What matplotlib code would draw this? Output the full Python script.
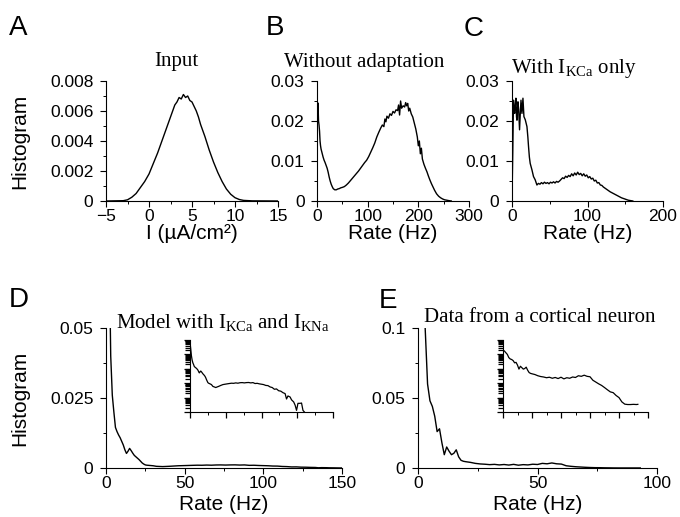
import matplotlib
matplotlib.use("Agg")
import matplotlib.pyplot as plt
from matplotlib.ticker import MultipleLocator, FuncFormatter, LogLocator, NullFormatter

# ---------------- data ----------------
# A: input current histogram
a_x = [-5, -3, -2.5, -2, -1.5, -1, -0.5, 0, 0.5, 1, 1.5, 2, 2.25, 2.5, 2.75, 3, 3.25, 3.5,
       3.75, 4, 4.25, 4.5, 4.75, 5, 5.25, 5.5, 5.75, 6, 6.5, 7, 7.5, 8, 8.5, 9, 9.5, 10,
       10.5, 11, 12, 15]
a_y = [0, 0.00002, 0.00008, 0.00025, 0.0005, 0.0009, 0.0013, 0.0018, 0.0025, 0.0032, 0.0040,
       0.0048, 0.0052, 0.0056, 0.0060, 0.0064, 0.0066, 0.0069, 0.0068, 0.0071, 0.0069,
       0.0070, 0.0067, 0.0066, 0.0063, 0.0060, 0.0056, 0.0051, 0.0043, 0.0034, 0.0026,
       0.0019, 0.0013, 0.0008, 0.00045, 0.00022, 0.0001, 0.00004, 0.00001, 0]

# B: without adaptation
b_x = [0, 1, 2, 3, 4, 5, 6, 7, 8, 10, 12, 14, 16, 18, 20, 22, 24, 26, 28, 30, 32, 35, 38,
       41, 44, 47, 50, 54, 58, 62, 66, 70, 74, 78, 82, 86, 90, 94, 98, 102, 106, 110, 114,
       118, 122, 126, 129, 132, 134, 136, 138, 141, 144, 147, 150, 153, 156, 159, 161, 163,
       165, 167, 170, 173, 175, 177, 179, 181, 183, 186, 189, 192, 195, 198, 200, 202, 204,
       206, 208, 211, 214, 217, 220, 223, 226, 229, 232, 236, 240, 244, 248, 252, 256, 260,
       265]
b_y = [0.0252, 0.0215, 0.0245, 0.0200, 0.0190, 0.0175, 0.0150, 0.0138, 0.0130, 0.0120,
       0.0110, 0.0102, 0.0096, 0.0089, 0.0082, 0.0072, 0.0060, 0.0050, 0.0042, 0.0036,
       0.0031, 0.0028, 0.0028, 0.0030, 0.0031, 0.0033, 0.0034, 0.0036, 0.0040, 0.0045,
       0.0051, 0.0057, 0.0063, 0.0069, 0.0075, 0.0082, 0.0089, 0.0096, 0.0102, 0.0111,
       0.0122, 0.0133, 0.0145, 0.0160, 0.0172, 0.0183, 0.0190, 0.0186, 0.0205, 0.0198,
       0.0212, 0.0207, 0.0218, 0.0214, 0.0224, 0.0220, 0.0228, 0.0226, 0.0240, 0.0215,
       0.0250, 0.0232, 0.0238, 0.0235, 0.0246, 0.0238, 0.0244, 0.0225, 0.0232, 0.0218,
       0.0210, 0.0195, 0.0180, 0.0160, 0.0138, 0.0150, 0.0118, 0.0132, 0.0105, 0.0092,
       0.0082, 0.0073, 0.0062, 0.0052, 0.0043, 0.0035, 0.0027, 0.0018, 0.0012, 0.0008,
       0.0005, 0.0003, 0.0002, 0.0001, 0.0]

# C: with I_KCa only
c_x = [0, 1, 2, 3, 3.5, 4.5, 5.2, 6, 6.6, 7.3, 7.9, 8.8, 10, 11, 11.9, 13.2, 14.5, 15.8,
       17.6, 19.8, 21, 21.9, 23, 24.1, 26.4, 28.5, 30.7, 33, 35, 37, 39, 41, 43, 45, 47, 49,
       51, 53, 55, 57, 59, 61, 63, 65, 67, 69, 71, 73, 75, 77, 79, 81, 83, 85, 87, 89, 91,
       93, 95, 97, 99, 101, 103, 105, 107, 109, 111, 113, 115, 117, 119, 121, 124, 127, 130,
       133, 136, 139, 142, 145, 148, 151, 154, 157, 160]
c_y = [0.0005, 0.012, 0.0252, 0.0225, 0.0219, 0.0240, 0.0257, 0.0210, 0.0202, 0.0230,
       0.0248, 0.0228, 0.0178, 0.0220, 0.0252, 0.0219, 0.0257, 0.0211, 0.0203, 0.0186,
       0.0160, 0.0136, 0.0110, 0.0094, 0.0078, 0.0061, 0.0053, 0.0040, 0.0044, 0.0042,
       0.0046, 0.0043, 0.0047, 0.0044, 0.0046, 0.0043, 0.0047, 0.0045, 0.0048, 0.0045,
       0.0049, 0.0047, 0.0050, 0.0054, 0.0058, 0.0056, 0.0062, 0.0059, 0.0064, 0.0061,
       0.0068, 0.0063, 0.0070, 0.0065, 0.0072, 0.0066, 0.0069, 0.0063, 0.0068, 0.0062,
       0.0065, 0.0058, 0.0061, 0.0055, 0.0057, 0.0050, 0.0052, 0.0045, 0.0046, 0.0040,
       0.0039, 0.0035, 0.0031, 0.0027, 0.0023, 0.0020, 0.0017, 0.0014, 0.0011, 0.0008,
       0.0006, 0.0004, 0.0002, 0.0001, 0.0]

# D: model with I_KCa and I_KNa
d_x = [0, 1, 2, 3, 4, 5, 6, 7, 8, 9, 10, 11, 12, 13, 14, 15, 16, 17, 18, 19, 20, 21, 22,
       23, 24, 25, 26, 28, 30, 32, 34, 36, 38, 40, 43, 46, 49, 52, 55, 58, 61, 64, 67, 70,
       73, 76, 79, 82, 85, 88, 91, 94, 97, 100, 103, 106, 109, 112, 115, 118, 121, 124, 127,
       130, 133, 135, 137, 140, 142, 145, 147, 149, 151, 154, 156, 158, 160]
d_y = [0.7, 0.25, 0.08, 0.040, 0.026, 0.020, 0.0145, 0.0130, 0.0118, 0.0108, 0.0095,
       0.0082, 0.0065, 0.0052, 0.0060, 0.0070, 0.0062, 0.0053, 0.0045, 0.0040, 0.0035,
       0.0030, 0.0024, 0.0018, 0.0014, 0.0011, 0.0010, 0.0009, 0.0008, 0.0006, 0.00055,
       0.0005, 0.00055, 0.0006, 0.0007, 0.0008, 0.00085, 0.0009, 0.00095, 0.0010, 0.00098,
       0.00105, 0.0010, 0.00108, 0.0011, 0.00105, 0.0011, 0.00112, 0.00105, 0.0011,
       0.00095, 0.00098, 0.0009, 0.00085, 0.0008, 0.0007, 0.00068, 0.00055, 0.0005,
       0.00038, 0.0004, 0.0003, 0.00028, 0.00022, 0.00019, 0.00008, 0.00013, 0.00011,
       0.00007, 0.00005, 0.00003, 0.000013, 0.00004, 0.00004, 0.000042, 0.000013, 0.00001]

# E: data from a cortical neuron
e_x = [0, 1, 2, 3, 4, 5, 6, 7, 8, 9, 10, 11, 12, 13, 14, 15, 16, 17, 18, 19, 20, 22, 24,
       26, 28, 30, 32, 34, 36, 38, 40, 42, 44, 46, 48, 50, 52, 54, 56, 58, 60, 62, 64, 66,
       68, 70, 72, 74, 76, 78, 80, 82, 84, 86, 88, 90, 92, 93]
e_y = [0.20, 0.17, 0.13, 0.10, 0.060, 0.048, 0.044, 0.037, 0.026, 0.028, 0.018, 0.0095,
       0.015, 0.012, 0.0095, 0.0105, 0.013, 0.008, 0.0055, 0.0048, 0.0045, 0.0040, 0.0033,
       0.0029, 0.0027, 0.0024, 0.0026, 0.0022, 0.0025, 0.0021, 0.0026, 0.0020, 0.0024,
       0.0022, 0.0027, 0.0025, 0.0033, 0.0030, 0.0036, 0.0030, 0.0028, 0.0016, 0.0012,
       0.0009, 0.0007, 0.0005, 0.00035, 0.00025, 0.00022, 0.00014, 0.0001, 0.00005,
       0.000035, 0.000033, 0.000033, 0.000034, 0.000033, 0.000034]

# ---------------- styling ----------------
SANS = ["Liberation Sans", "DejaVu Sans"]
SERIF = ["Liberation Serif", "DejaVu Serif"]
plt.rcParams["font.family"] = SANS
plt.rcParams["mathtext.fontset"] = "custom"
plt.rcParams["mathtext.rm"] = "Liberation Serif"
plt.rcParams["mathtext.it"] = "Liberation Serif:italic"
plt.rcParams["axes.linewidth"] = 0.8

W, H = 680, 517
fig = plt.figure(figsize=(W / 100, H / 100), dpi=100)


def box(l, r, t, b):
    return [l / W, 1 - b / H, (r - l) / W, (b - t) / H]


def fmt(v, pos):
    if abs(v) < 1e-12:
        return "0"
    return f"{v:g}".replace("-", "\u2212")


def style(ax, xmaj, xmin, ymaj, ymin):
    for s in ("top", "right"):
        ax.spines[s].set_visible(False)
    ax.xaxis.set_major_locator(MultipleLocator(xmaj))
    ax.xaxis.set_minor_locator(MultipleLocator(xmin))
    ax.yaxis.set_major_locator(MultipleLocator(ymaj))
    ax.yaxis.set_minor_locator(MultipleLocator(ymin))
    ax.xaxis.set_major_formatter(FuncFormatter(fmt))
    ax.yaxis.set_major_formatter(FuncFormatter(fmt))
    ax.tick_params(which="major", direction="out", length=4, width=0.8, labelsize=12.5)
    ax.tick_params(which="minor", direction="out", length=2.5, width=0.7)
    ax.tick_params(axis="x", which="major", pad=1.5)
    ax.tick_params(axis="y", which="major", pad=5)


LW = 1.0

axA = fig.add_axes(box(106, 278, 81, 201))
axA.plot(a_x, a_y, color="black", lw=LW)
axA.set_xlim(-5, 15)
axA.set_ylim(0, 0.008)
style(axA, 5, 2.5, 0.002, 0.001)
axA.set_ylabel("Histogram", fontsize=15, labelpad=15)
axA.set_xlabel("I (\u00b5A/cm\u00b2)", fontsize=15, labelpad=0)

axB = fig.add_axes(box(317, 469, 81, 201))
axB.plot(b_x, b_y, color="black", lw=LW)
axB.set_xlim(0, 300)
axB.set_ylim(0, 0.03)
style(axB, 100, 50, 0.01, 0.005)
axB.set_xlabel("Rate (Hz)", fontsize=15, labelpad=0)

axC = fig.add_axes(box(512, 663, 81, 201))
axC.plot(c_x, c_y, color="black", lw=LW)
axC.set_xlim(0, 200)
axC.set_ylim(0, 0.03)
style(axC, 100, 50, 0.01, 0.005)
axC.set_xlabel("Rate (Hz)", fontsize=15, labelpad=0)

axD = fig.add_axes(box(106, 342, 328, 468))
axD.plot(d_x, d_y, color="black", lw=LW)
axD.set_xlim(0, 150)
axD.set_ylim(0, 0.05)
style(axD, 50, 25, 0.025, 0.0125)
axD.set_ylabel("Histogram", fontsize=15, labelpad=15)
axD.set_xlabel("Rate (Hz)", fontsize=15, labelpad=3)

axE = fig.add_axes(box(418, 657, 328, 468))
axE.plot(e_x, e_y, color="black", lw=LW)
axE.set_xlim(0, 100)
axE.set_ylim(0, 0.1)
style(axE, 50, 25, 0.05, 0.025)
axE.set_xlabel("Rate (Hz)", fontsize=15, labelpad=3)


def inset(rect, x, y, xmax, xmaj):
    ax = fig.add_axes(rect)
    ax.plot(x, y, color="black", lw=0.9)
    ax.set_yscale("log")
    ax.set_xlim(0, xmax)
    ax.set_ylim(1e-5, 1)
    for s in ("top", "right"):
        ax.spines[s].set_visible(False)
    ax.xaxis.set_major_locator(MultipleLocator(xmaj))
    ax.xaxis.set_minor_locator(MultipleLocator(xmaj / 2))
    ax.yaxis.set_major_locator(LogLocator(base=10, numticks=10))
    ax.yaxis.set_minor_locator(LogLocator(base=10, subs=range(2, 10), numticks=10))
    ax.xaxis.set_major_formatter(NullFormatter())
    ax.yaxis.set_major_formatter(NullFormatter())
    ax.yaxis.set_minor_formatter(NullFormatter())
    ax.tick_params(which="major", direction="out", length=4.5, width=0.9)
    ax.tick_params(axis="y", which="minor", direction="out", length=3.5, width=0.9)
    ax.tick_params(axis="x", which="minor", direction="out", length=2.5, width=0.7)
    return ax


inset(box(190, 333, 340, 412), d_x, d_y, 200, 50)
inset(box(503, 648, 340, 412), e_x, e_y, 100, 20)

# titles
def title(x, y, s):
    fig.text(x / W, 1 - y / H, s, ha="center", va="baseline", fontsize=15,
             family=SERIF)

title(176, 66, "Input")
title(364, 67, "Without adaptation")
title(574, 73, r"With $\mathrm{I_{KCa}}$ only")
title(223, 328, r"Model with $\mathrm{I_{KCa}}$ and $\mathrm{I_{KNa}}$")
title(540, 322, "Data from a cortical neuron")

# panel letters
for x, y, s in [(9, 35, "A"), (266, 35, "B"), (464, 36, "C"), (9, 307, "D"), (379, 308, "E")]:
    fig.text(x / W, 1 - y / H, s, ha="left", va="baseline", fontsize=20)

fig.savefig("out.png", dpi=100)
